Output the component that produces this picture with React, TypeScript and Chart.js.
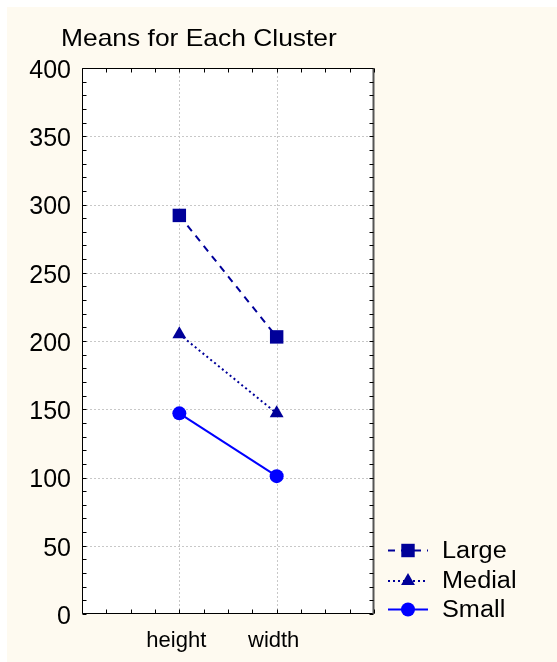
import React, { useEffect, useRef } from "react";
import { Chart, registerables } from "chart.js";

Chart.register(...registerables);

const titleText = "Means for Each Cluster";
const categories = ["height", "width"];
const seriesNames = ["Large", "Medial", "Small"];
const largeValues = [292, 203];
const medialValues = [205, 147];
const smallValues = [147, 101];
const yTicks = [0, 50, 100, 150, 200, 250, 300, 350, 400];

const NAVY = "#000099";
const BLUE = "#0000FF";
const FONT = "'Liberation Sans', Arial, sans-serif";

const seriesStyles = [
  { color: NAVY, dash: [7, 6], point: "rect", radius: 9.5 },
  { color: NAVY, dash: [2, 3], point: "triangle", radius: 8 },
  { color: BLUE, dash: [] as number[], point: "circle", radius: 7 },
];

function drawMarker(ctx: CanvasRenderingContext2D, kind: string, x: number, y: number, r: number, color: string) {
  ctx.save();
  ctx.fillStyle = color;
  ctx.beginPath();
  if (kind === "rect") {
    const s = Math.SQRT1_2 * r;
    ctx.rect(x - s, y - s, 2 * s, 2 * s);
  } else if (kind === "triangle") {
    ctx.moveTo(x, y - r);
    ctx.lineTo(x + r * 0.866, y + r * 0.5);
    ctx.lineTo(x - r * 0.866, y + r * 0.5);
    ctx.closePath();
  } else {
    ctx.arc(x, y, r, 0, Math.PI * 2);
  }
  ctx.fill();
  ctx.restore();
}

const decorPlugin = {
  id: "decor",
  beforeDatasetsDraw(chart: any) {
    const { ctx, chartArea: a, scales } = chart;
    const xs = scales.x;
    const ys = scales.y;
    ctx.save();
    ctx.fillStyle = "#FFFFFF";
    ctx.fillRect(a.left, a.top, a.right - a.left, a.bottom - a.top);
    ctx.strokeStyle = "#c8c8c8";
    ctx.lineWidth = 1;
    ctx.setLineDash([2, 2]);
    yTicks.forEach((v) => {
      if (v > yTicks[0] && v < yTicks[yTicks.length - 1]) {
        const py = Math.round(ys.getPixelForValue(v)) + 0.5;
        ctx.beginPath();
        ctx.moveTo(a.left, py);
        ctx.lineTo(a.right, py);
        ctx.stroke();
      }
    });
    categories.forEach((_, i) => {
      const px = Math.round(xs.getPixelForValue(i + 1)) + 0.5;
      ctx.beginPath();
      ctx.moveTo(px, a.top);
      ctx.lineTo(px, a.bottom);
      ctx.stroke();
    });
    ctx.restore();
  },
  afterDatasetsDraw(chart: any) {
    const { ctx, chartArea: a, scales } = chart;
    const xs = scales.x;
    const ys = scales.y;
    ctx.save();
    ctx.setLineDash([]);
    ctx.strokeStyle = "#000";
    ctx.lineWidth = 1;
    const L = Math.round(a.left) + 0.5;
    const R = Math.round(a.right) - 0.5;
    const T = Math.round(a.top) + 0.5;
    const B = Math.round(a.bottom) - 0.5;
    ctx.beginPath();
    ctx.moveTo(L, T);
    ctx.lineTo(R, T);
    ctx.moveTo(L, T);
    ctx.lineTo(L, B);
    ctx.lineTo(R, B);
    ctx.stroke();
    ctx.strokeStyle = "#555";
    ctx.lineWidth = 2;
    ctx.beginPath();
    ctx.moveTo(R, T - 0.5);
    ctx.lineTo(R, B + 0.5);
    ctx.stroke();
    // minor ticks
    ctx.strokeStyle = "#000";
    ctx.lineWidth = 1;
    const tl = 4;
    for (let v = xs.min; v <= xs.max + 1e-9; v += 0.25) {
      const px = Math.round(xs.getPixelForValue(v)) + 0.5;
      ctx.beginPath();
      ctx.moveTo(px, B);
      ctx.lineTo(px, B - tl);
      ctx.moveTo(px, T);
      ctx.lineTo(px, T + tl);
      ctx.stroke();
    }
    for (let v = ys.min; v <= ys.max + 1e-9; v += 10) {
      const py = Math.round(ys.getPixelForValue(v)) + 0.5;
      ctx.beginPath();
      ctx.moveTo(L, py);
      ctx.lineTo(L + tl, py);
      ctx.moveTo(R, py);
      ctx.lineTo(R - tl, py);
      ctx.stroke();
    }
    ctx.restore();
  },
  afterDraw(chart: any) {
    const { ctx, chartArea: a } = chart;
    ctx.save();
    // title
    ctx.fillStyle = "#000";
    ctx.font = `24px ${FONT}`;
    ctx.textBaseline = "alphabetic";
    ctx.textAlign = "left";
    ctx.save();
    ctx.translate(54, 39);
    ctx.scale(1.1, 1);
    ctx.fillText(titleText, 0, 0);
    ctx.restore();
    // legend
    const rowY = [543.5, 574, 602.5];
    chart.data.datasets.forEach((ds: any, i: number) => {
      const st = seriesStyles[i];
      const y = rowY[i];
      const x0 = a.right + 14;
      const x1 = x0 + 40;
      const xm = (x0 + x1) / 2;
      ctx.save();
      ctx.strokeStyle = st.color;
      ctx.lineWidth = 2;
      ctx.setLineDash(st.dash);
      ctx.beginPath();
      ctx.moveTo(x0, y);
      ctx.lineTo(x1, y);
      ctx.stroke();
      ctx.restore();
      drawMarker(ctx, st.point, xm, y, st.radius, st.color);
      ctx.save();
      ctx.fillStyle = "#000";
      ctx.font = `23px ${FONT}`;
      ctx.textBaseline = "middle";
      ctx.translate(x1 + 14, y + 1);
      ctx.scale(1.1, 1);
      ctx.fillText(ds.label, 0, 0);
      ctx.restore();
    });
    ctx.restore();
  },
};

export default function App() {
  const ref = useRef<HTMLCanvasElement | null>(null);
  useEffect(() => {
    if (!ref.current) return;
    const seriesValues = [largeValues, medialValues, smallValues];
    const chart = new Chart(ref.current, {
      type: "line",
      data: {
        datasets: seriesNames.map((name, si) => ({
          label: name,
          data: categories.map((_, ci) => ({ x: ci + 1, y: seriesValues[si][ci] })),
          borderColor: seriesStyles[si].color,
          backgroundColor: seriesStyles[si].color,
          borderWidth: 2,
          borderDash: seriesStyles[si].dash,
          pointStyle: seriesStyles[si].point as any,
          pointRadius: seriesStyles[si].radius,
          pointBorderWidth: 0,
          pointBackgroundColor: seriesStyles[si].color,
          pointBorderColor: seriesStyles[si].color,
          tension: 0,
          fill: false,
        })),
      },
      options: {
        animation: false,
        responsive: false,
        maintainAspectRatio: false,
        layout: { padding: { top: 61, right: 183, left: 0, bottom: 0 } },
        plugins: {
          legend: { display: false },
          title: { display: false },
          tooltip: { enabled: false },
        },
        scales: {
          x: {
            type: "linear",
            min: 0,
            max: categories.length + 1,
            grid: { display: false, drawTicks: false },
            border: { display: false },
            afterFit: (s: any) => {
              s.height = 48;
            },
            ticks: {
              stepSize: 1,
              autoSkip: false,
              maxRotation: 0,
              padding: 14,
              labelOffset: -3,
              color: "#000",
              font: { family: FONT, size: 22 },
              callback: (v: any) => {
                const n = Number(v);
                return Number.isInteger(n) && n >= 1 && n <= categories.length ? categories[n - 1] : "";
              },
            },
          },
          y: {
            type: "linear",
            min: yTicks[0],
            max: yTicks[yTicks.length - 1],
            grid: { display: false, drawTicks: false },
            border: { display: false },
            afterFit: (s: any) => {
              s.width = 75;
            },
            ticks: {
              stepSize: 50,
              autoSkip: false,
              padding: 11,
              labelOffset: 3,
              color: "#000",
              font: { family: FONT, size: 25 },
            },
          },
        },
      },
      plugins: [decorPlugin],
    });
    return () => chart.destroy();
  }, []);
  return (
    <div
      style={{
        position: "absolute",
        left: 7,
        top: 7,
        width: 550,
        height: 655,
        background: "#FEFAF0",
      }}
    >
      <canvas ref={ref} width={550} height={655} style={{ display: "block" }} />
    </div>
  );
}
